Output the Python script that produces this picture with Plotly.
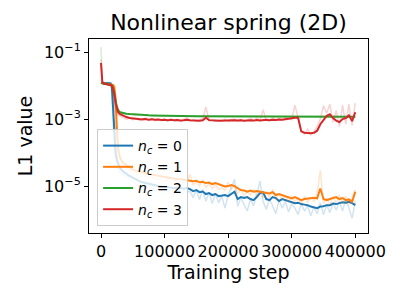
import plotly.graph_objects as go
#
# Training steps (early, finely sampled part + regular grid afterwards)
steps_early = [0, 2000, 5000, 10000, 15000, 17000, 19000, 21000, 23000, 25000, 27000, 30000, 35000]
steps_late = list(range(40000, 400001, 5000))
steps = steps_early + steps_late
#
# Smoothed L1 values, one list per n_c
nc0_smooth = [1.2e-2, 1.2e-2, 1.2e-2, 1.2e-2, 1.18e-2, 1.0e-2, 2.5e-3, 3e-4, 1.0e-4, 6e-5, 4.5e-5, 3.4e-5, 2.7e-5,
              2.3e-5, 2.0e-5, 1.8e-5, 1.55e-5, 1.4e-5, 1.3e-5, 1.23e-5, 1.15e-5, 1.07e-5, 1.03e-5,
              1.0e-5, 9.7e-6, 9.3e-6, 9.2e-6, 9.0e-6, 8.7e-6, 9.0e-6, 8.7e-6, 8.4e-6, 8.7e-6,
              8.1e-6, 7.1e-6, 7.6e-6, 6.6e-6, 6.9e-6, 5.8e-6, 6.2e-6, 5.4e-6, 5.8e-6, 5.0e-6,
              5.2e-6, 5.4e-6, 5.0e-6, 5.8e-6, 6.8e-6, 4.1e-6, 4.7e-6, 4.4e-6, 4.7e-6, 4.1e-6,
              3.8e-6, 4.7e-6, 6.2e-6, 6.5e-6, 4.1e-6, 3.8e-6, 4.7e-6, 4.4e-6, 3.6e-6, 4.1e-6,
              3.8e-6, 3.6e-6, 3.4e-6, 3.1e-6, 3.2e-6, 2.9e-6, 2.8e-6, 2.7e-6, 2.45e-6, 2.36e-6,
              2.2e-6, 2.45e-6, 2.5e-6, 2.7e-6, 2.7e-6, 3.0e-6, 2.9e-6, 3.1e-6, 3.3e-6, 3.2e-6,
              3.4e-6, 3.1e-6, 2.7e-6]
nc1_smooth = [1.2e-2, 1.18e-2, 1.15e-2, 1.12e-2, 1.1e-2, 1.08e-2, 1.05e-2, 9e-3, 4e-3, 5e-4, 1.3e-4, 7e-5, 4.8e-5,
              4.2e-5, 3.6e-5, 3.1e-5, 2.9e-5, 2.7e-5, 2.5e-5, 2.45e-5, 2.3e-5, 2.2e-5, 2.1e-5,
              2.0e-5, 1.9e-5, 1.86e-5, 1.8e-5, 1.73e-5, 1.67e-5, 1.6e-5, 1.6e-5, 1.55e-5, 1.5e-5,
              1.5e-5, 1.4e-5, 1.45e-5, 1.3e-5, 1.35e-5, 1.23e-5, 1.27e-5, 1.15e-5, 1.23e-5, 1.15e-5,
              1.07e-5, 9.7e-6, 1.0e-5, 1.07e-5, 1.0e-5, 8.7e-6, 7.6e-6, 7.4e-6, 6.8e-6, 7.4e-6,
              6.8e-6, 7.1e-6, 6.8e-6, 6.6e-6, 6.4e-6, 6.05e-6, 6.6e-6, 5.4e-6, 5.8e-6, 5.4e-6,
              4.9e-6, 4.7e-6, 4.3e-6, 4.7e-6, 4.3e-6, 3.8e-6, 4.1e-6, 4.3e-6, 4.3e-6, 4.5e-6,
              4.3e-6, 8.5e-6, 4.1e-6, 3.8e-6, 4.1e-6, 4.3e-6, 4.7e-6, 4.1e-6, 4.4e-6, 3.8e-6,
              4.0e-6, 3.4e-6, 6.8e-6]
nc2_smooth = [1.2e-2, 1.15e-2, 1.12e-2, 1.1e-2, 1.07e-2, 1.02e-2, 8.5e-3, 6e-3, 3.5e-3, 2.3e-3, 1.85e-3, 1.6e-3, 1.5e-3,
              1.45e-3, 1.41e-3, 1.38e-3, 1.35e-3, 1.33e-3, 1.31e-3, 1.30e-3, 1.29e-3, 1.28e-3, 1.27e-3,
              1.26e-3, 1.26e-3, 1.25e-3, 1.25e-3, 1.24e-3, 1.24e-3, 1.23e-3, 1.23e-3, 1.23e-3, 1.22e-3,
              1.22e-3, 1.22e-3, 1.21e-3, 1.21e-3, 1.21e-3, 1.21e-3, 1.20e-3, 1.20e-3, 1.20e-3, 1.20e-3,
              1.20e-3, 1.19e-3, 1.19e-3, 1.19e-3, 1.19e-3, 1.19e-3, 1.19e-3, 1.19e-3, 1.18e-3, 1.18e-3,
              1.18e-3, 1.18e-3, 1.18e-3, 1.18e-3, 1.18e-3, 1.18e-3, 1.18e-3, 1.18e-3, 1.17e-3, 1.17e-3,
              1.17e-3, 1.17e-3, 1.17e-3, 1.17e-3, 1.17e-3, 1.17e-3, 1.17e-3, 1.17e-3, 1.17e-3, 1.17e-3,
              1.17e-3, 1.17e-3, 1.17e-3, 1.17e-3, 1.17e-3, 1.17e-3, 1.17e-3, 1.17e-3, 1.17e-3, 1.17e-3,
              1.17e-3, 1.17e-3, 1.17e-3]
nc3_smooth = [4.7e-2, 1.3e-2, 1.15e-2, 1.1e-2, 1.05e-2, 1.0e-2, 8e-3, 5.5e-3, 3e-3, 2e-3, 1.6e-3, 1.4e-3, 1.25e-3,
              1.15e-3, 1.08e-3, 1.05e-3, 1.02e-3, 1.0e-3, 9.8e-4, 1.0e-3, 9.6e-4, 9.8e-4, 9.5e-4,
              9.7e-4, 9.4e-4, 9.6e-4, 9.3e-4, 9.5e-4, 9.2e-4, 9.4e-4, 9.1e-4, 9.3e-4, 9.6e-4,
              9.2e-4, 9.0e-4, 9.1e-4, 8.9e-4, 9.2e-4, 1.1e-3, 9.3e-4, 9.0e-4, 9.1e-4, 8.9e-4,
              9.0e-4, 9.2e-4, 8.9e-4, 9.1e-4, 9.3e-4, 9.0e-4, 9.2e-4, 8.9e-4, 9.1e-4, 9.3e-4,
              9.0e-4, 9.4e-4, 9.1e-4, 9.3e-4, 9.5e-4, 9.2e-4, 9.6e-4, 9.4e-4, 9.7e-4, 9.5e-4,
              9.9e-4, 1.05e-3, 1.08e-3, 1.1e-3, 1.1e-3, 4.3e-4, 3.9e-4, 3.8e-4, 3.8e-4, 3.9e-4,
              4.5e-4, 7.0e-4, 9.0e-4, 1.25e-3, 1.4e-3, 1.07e-3, 9.0e-4, 8.1e-4, 1.0e-3, 1.07e-3,
              1.3e-3, 8.7e-4, 1.6e-3]
#
# Raw (unsmoothed) L1 values, drawn faintly behind
nc0_raw = [1.3e-2, 1.2e-2, 1.15e-2, 1.25e-2, 1.1e-2, 6e-3, 8e-4, 1e-4, 5e-5, 3.5e-5, 3e-5, 2.5e-5, 2.2e-5,
           1.9e-5, 1.6e-5, 1.5e-5, 1.1e-5, 1.2e-5, 9e-6, 1.1e-5, 8e-6, 9.5e-6, 7e-6,
           9e-6, 6.5e-6, 8e-6, 7e-6, 8.5e-6, 6e-6, 8e-6, 5.5e-6, 7.5e-6, 6.5e-6,
           7e-6, 4.5e-6, 7.5e-6, 4e-6, 8e-6, 3.5e-6, 6.5e-6, 3e-6, 6e-6, 3.2e-6,
           5e-6, 2.2e-6, 5.5e-6, 9e-6, 1.6e-5, 2.5e-6, 4.5e-6, 2.8e-6, 1.8e-6, 4e-6,
           2.6e-6, 5.5e-6, 1.4e-5, 3.5e-6, 2e-6, 4.2e-6, 2.5e-6, 1.5e-6, 3.8e-6, 2.2e-6,
           3.5e-6, 1.7e-6, 3e-6, 2.2e-6, 1.4e-6, 3e-6, 1.8e-6, 2.6e-6, 1.3e-6, 2.4e-6,
           1.5e-6, 3.2e-6, 1.4e-6, 2.8e-6, 1.6e-6, 3.2e-6, 1.9e-6, 3.5e-6, 1.8e-6, 4e-6,
           2.2e-6, 1.1e-6, 3.5e-6]
nc1_raw = [1.3e-2, 1.15e-2, 1.2e-2, 1.1e-2, 1.12e-2, 1.05e-2, 9e-3, 3e-3, 4e-4, 1e-4, 6e-5, 4.5e-5, 3.8e-5,
           3.5e-5, 3.0e-5, 2.6e-5, 2.4e-5, 2.2e-5, 2.1e-5, 2.0e-5, 1.9e-5, 1.8e-5, 1.7e-5,
           1.6e-5, 1.7e-5, 1.4e-5, 1.6e-5, 1.3e-5, 1.5e-5, 1.25e-5, 1.4e-5, 1.2e-5, 1.35e-5,
           2.2e-5, 1.1e-5, 1.3e-5, 1.0e-5, 1.5e-5, 9e-6, 1.2e-5, 8.5e-6, 1.1e-5, 8e-6,
           9e-6, 7.5e-6, 1.3e-5, 8e-6, 1.1e-5, 6e-6, 8e-6, 5e-6, 7e-6, 5.5e-6,
           8e-6, 5e-6, 7e-6, 4.5e-6, 6.5e-6, 4.5e-6, 8e-6, 4e-6, 6e-6, 4e-6,
           5e-6, 3.5e-6, 5e-6, 3.5e-6, 4.5e-6, 3e-6, 5e-6, 3.2e-6, 4.5e-6, 3.6e-6,
           6e-6, 3e-5, 3e-6, 4.5e-6, 2.8e-6, 4.8e-6, 3.2e-6, 5.5e-6, 3e-6, 5e-6,
           2.8e-6, 4.5e-6, 8e-6]
nc2_raw = [1.4e-1, 1.2e-2, 1.1e-2, 1.15e-2, 1.05e-2, 9e-3, 6e-3, 3.5e-3, 2.2e-3, 1.7e-3, 1.55e-3, 1.5e-3, 1.45e-3,
           1.42e-3, 1.38e-3, 1.36e-3, 1.33e-3, 1.32e-3, 1.29e-3, 1.3e-3, 1.27e-3, 1.28e-3, 1.25e-3,
           1.27e-3, 1.24e-3, 1.26e-3, 1.23e-3, 1.25e-3, 1.22e-3, 1.24e-3, 1.21e-3, 1.23e-3, 1.21e-3,
           1.23e-3, 1.2e-3, 1.22e-3, 1.19e-3, 1.22e-3, 1.2e-3, 1.21e-3, 1.19e-3, 1.21e-3, 1.19e-3,
           1.21e-3, 1.18e-3, 1.2e-3, 1.18e-3, 1.2e-3, 1.17e-3, 1.2e-3, 1.18e-3, 1.19e-3, 1.17e-3,
           1.19e-3, 1.17e-3, 1.19e-3, 1.17e-3, 1.19e-3, 1.16e-3, 1.19e-3, 1.17e-3, 1.18e-3, 1.16e-3,
           1.18e-3, 1.16e-3, 1.18e-3, 1.16e-3, 1.18e-3, 1.16e-3, 1.18e-3, 1.16e-3, 1.18e-3, 1.16e-3,
           1.18e-3, 1.16e-3, 1.18e-3, 1.16e-3, 1.18e-3, 1.16e-3, 1.18e-3, 1.16e-3, 1.18e-3, 1.16e-3,
           1.18e-3, 1.16e-3, 1.17e-3]
nc3_raw = [6e-2, 1.2e-2, 1.1e-2, 1.15e-2, 1.0e-2, 9e-3, 5.5e-3, 3e-3, 1.8e-3, 1.5e-3, 1.3e-3, 1.2e-3, 1.1e-3,
           1.0e-3, 1.1e-3, 9.5e-4, 1.05e-3, 9.2e-4, 1.0e-3, 1.08e-3, 9e-4, 1.05e-3, 8.8e-4,
           1.0e-3, 9e-4, 1.02e-3, 8.7e-4, 1.0e-3, 8.8e-4, 9.8e-4, 8.6e-4, 1.0e-3, 1.1e-3,
           8.7e-4, 9.5e-4, 8.5e-4, 9.6e-4, 1.05e-3, 2.3e-3, 8.8e-4, 9.5e-4, 8.6e-4, 9.4e-4,
           8.5e-4, 1.0e-3, 8.6e-4, 9.5e-4, 1.0e-3, 8.6e-4, 9.8e-4, 8.5e-4, 9.6e-4, 1.05e-3,
           8.8e-4, 1.1e-3, 9e-4, 1.9e-3, 9.2e-4, 8.9e-4, 1.1e-3, 9.2e-4, 1.05e-3, 9.4e-4,
           1.1e-3, 1.05e-3, 9.6e-4, 2.6e-3, 1.1e-3, 4.5e-4, 3.6e-4, 5e-4, 3.4e-4, 4.2e-4,
           6e-4, 1.0e-3, 2.5e-3, 1.5e-3, 2.8e-3, 8e-4, 1.8e-3, 6e-4, 2.6e-3, 7e-4,
           2.8e-3, 6.5e-4, 3e-3]
#
labels = ["<i>n</i><sub><i>c</i></sub> = 0", "<i>n</i><sub><i>c</i></sub> = 1",
          "<i>n</i><sub><i>c</i></sub> = 2", "<i>n</i><sub><i>c</i></sub> = 3"]
colors = ["#1f77b4", "#ff7f0e", "#2ca02c", "#d62728"]
raw_colors = ["rgba(31,119,180,0.2)", "rgba(255,127,14,0.2)",
              "rgba(44,160,44,0.2)", "rgba(214,39,40,0.2)"]
x_ticks = [0, 100000, 200000, 300000, 400000]
y_ticks = [1e-1, 1e-3, 1e-5]
y_ticktext = ["10<sup>−1</sup>", "10<sup>−3</sup>", "10<sup>−5</sup>"]
#
# Build figure: faint raw curve, then smoothed curve for each n_c
fig = go.Figure()
smooth = [nc0_smooth, nc1_smooth, nc2_smooth, nc3_smooth]
raw = [nc0_raw, nc1_raw, nc2_raw, nc3_raw]
for i in range(4):
    fig.add_trace(go.Scatter(x=steps, y=raw[i], mode="lines", showlegend=False,
                             line=dict(color=raw_colors[i], width=1.5)))
    fig.add_trace(go.Scatter(x=steps, y=smooth[i], mode="lines", name=labels[i],
                             line=dict(color=colors[i], width=2)))
#
# The page body has an 8px margin, so the figure is sized 384x284 to fill the window
axis_style = dict(showline=True, linecolor="black", linewidth=1, mirror=True,
                  ticks="outside", ticklen=4, tickcolor="black", showgrid=False,
                  zeroline=False, automargin=False, tickfont=dict(size=16, color="black"))
fig.update_xaxes(range=[-18900, 420000], tickvals=x_ticks,
                 ticktext=[str(v) for v in x_ticks],
                 title=dict(text="Training step", font=dict(size=19, color="black"), standoff=2),
                 **axis_style)
fig.update_yaxes(type="log", range=[-6.40, -0.61], tickvals=y_ticks, ticktext=y_ticktext,
                 title=dict(text="L1 value", font=dict(size=19, color="black"), standoff=6),
                 **axis_style)
fig.update_layout(
    width=384, height=284,
    margin=dict(l=81, r=24, t=31, b=59),
    paper_bgcolor="white", plot_bgcolor="white",
    font=dict(family="DejaVu Sans", color="black"),
    title=dict(text="Nonlinear spring (2D)", x=0.5, xref="paper", y=0.951,
               yanchor="middle", font=dict(size=22, color="black")),
    legend=dict(x=0.029, y=0.036, xanchor="left", yanchor="bottom",
                bgcolor="rgba(255,255,255,0.8)", bordercolor="#cccccc", borderwidth=1,
                font=dict(size=14), itemwidth=30, tracegroupgap=0),
)
fig.write_html("out.html")
